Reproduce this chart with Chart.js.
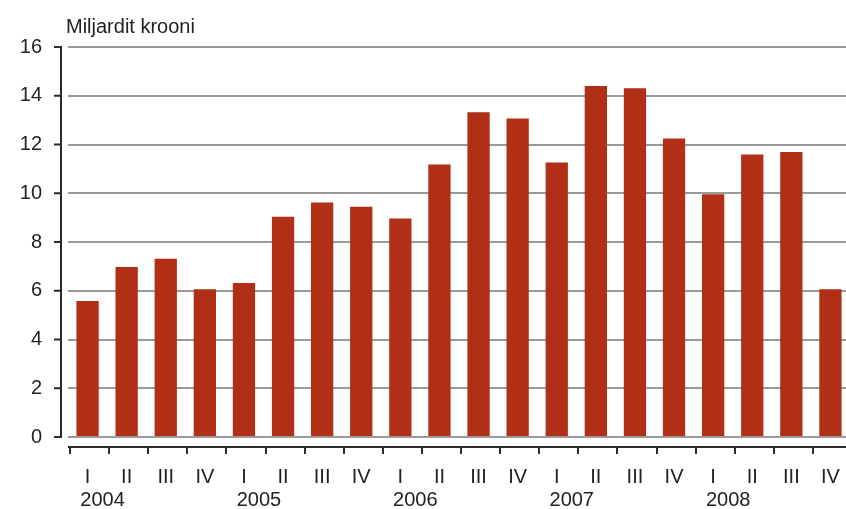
<!DOCTYPE html>
<html>
<head>
<meta charset="utf-8">
<script src="https://cdn.jsdelivr.net/npm/chart.js@4/dist/chart.umd.min.js"></script>
<style>
  html, body { margin: 0; padding: 0; background: #fff; overflow: hidden; }
  #wrap { width: 850px; height: 509px; }
</style>
</head>
<body>
<div id="wrap"><canvas id="chart" width="850" height="509"></canvas></div>
<script>
const quarters = ["I", "II", "III", "IV", "I", "II", "III", "IV", "I", "II",
                  "III", "IV", "I", "II", "III", "IV", "I", "II", "III", "IV"];
const years = ["2004", "", "", "", "2005", "", "", "", "2006", "", "", "",
               "2007", "", "", "", "2008", "", "", ""];
const values = [5.58, 6.97, 7.31, 6.06, 6.32, 9.04, 9.62, 9.45, 8.96, 11.18,
                13.32, 13.07, 11.26, 14.40, 14.31, 12.25, 9.96, 11.59, 11.69, 6.06];
const unitLabel = "Miljardit krooni";

Chart.defaults.font.family = "Arial, 'Liberation Sans', sans-serif";
Chart.defaults.font.size = 20;
Chart.defaults.color = "#222";

// axis lines drawn a little apart from the plot, like the original
const axisDecor = {
  id: "axisDecor",
  afterDraw(chart) {
    const { ctx, chartArea, scales } = chart;
    const ys = scales.y, xs = scales.x;
    ctx.save();
    ctx.strokeStyle = "#2b2b2b";
    ctx.lineWidth = 2;

    // y axis + ticks
    const ax = chartArea.left - 7;
    ctx.beginPath();
    ctx.moveTo(ax, ys.getPixelForValue(16));
    ctx.lineTo(ax, ys.getPixelForValue(0));
    ys.ticks.forEach(t => {
      const y = ys.getPixelForValue(t.value);
      ctx.moveTo(ax - 7, y);
      ctx.lineTo(ax + 1, y);
    });
    ctx.stroke();

    // x axis + ticks at category boundaries
    const ay = chartArea.bottom + 10;
    const half = (xs.getPixelForValue(1) - xs.getPixelForValue(0)) / 2;
    ctx.beginPath();
    ctx.moveTo(chartArea.left, ay);
    ctx.lineTo(chartArea.right, ay);
    for (let i = 0; i <= quarters.length; i++) {
      const x = Math.round(xs.getPixelForValue(i) - half) + 2;
      ctx.moveTo(x, ay);
      ctx.lineTo(x, ay + 7);
    }
    ctx.stroke();

    // unit label
    ctx.fillStyle = "#222";
    ctx.font = "20px Arial, 'Liberation Sans', sans-serif";
    ctx.textAlign = "left";
    ctx.textBaseline = "alphabetic";
    ctx.fillText(unitLabel, chartArea.left - 2, 33);
    ctx.restore();
  }
};

function noSidePad(s, h) {
  s.height = h;
  s.paddingLeft = 0;
  s.paddingRight = 0;
}

new Chart(document.getElementById("chart"), {
  type: "bar",
  data: {
    labels: quarters,
    datasets: [{
      data: values,
      backgroundColor: "#b12e17",
      borderWidth: 0,
      categoryPercentage: 1,
      barPercentage: 0.57,
    }],
  },
  options: {
    responsive: false,
    animation: false,
    devicePixelRatio: 1,
    layout: { padding: { top: 47, left: 0, right: 0, bottom: 0 } },
    plugins: { legend: { display: false }, title: { display: false }, tooltip: { enabled: false } },
    scales: {
      x: {
        weight: 0,
        offset: true,
        grid: { display: false, drawTicks: false },
        border: { display: false },
        ticks: { autoSkip: false, maxRotation: 0, padding: 28 },
        afterFit(s) { noSidePad(s, 46); },
      },
      x2: {
        type: "category",
        position: "bottom",
        weight: 1,
        labels: years,
        offset: true,
        grid: { display: false, drawTicks: false },
        border: { display: false },
        ticks: { autoSkip: false, maxRotation: 0, padding: 5, labelOffset: 15 },
        afterFit(s) { noSidePad(s, 26); },
      },
      y: {
        min: 0,
        max: 16,
        ticks: { stepSize: 2, padding: 26 },
        grid: { color: "#9a9a9a", lineWidth: 2, drawTicks: false },
        border: { display: false },
        afterFit(s) { s.width = 68; },
      },
    },
  },
  plugins: [axisDecor],
});
</script>
</body>
</html>
